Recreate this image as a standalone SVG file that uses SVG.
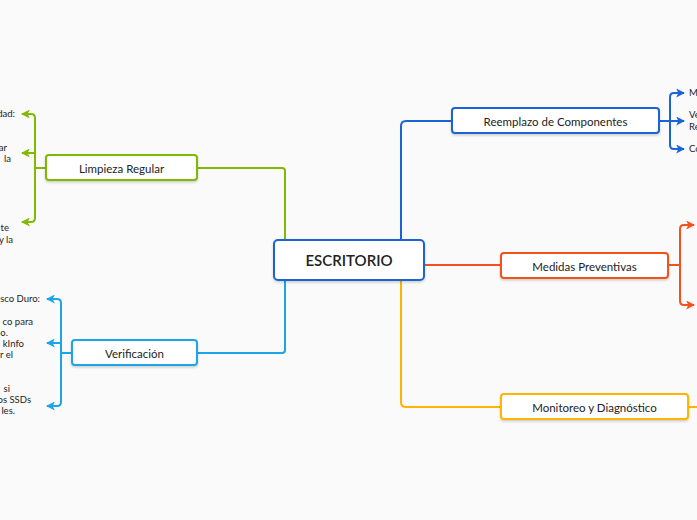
<svg xmlns="http://www.w3.org/2000/svg" width="697" height="520" viewBox="0 0 697 520">
<defs>
<style>
.bg{fill:#fafafa}
.node{fill:#ffffff;stroke-width:2;filter:url(#sh)}
.lbl{font-family:Lato,"Liberation Sans",sans-serif;font-size:11.5px;fill:#222;text-anchor:middle;dominant-baseline:central}
.main{font-size:15px;font-weight:600}
.sm{font-family:Lato,"Liberation Sans",sans-serif;font-size:9.5px;fill:#222}
.smr{font-family:Lato,"Liberation Sans",sans-serif;font-size:9.5px;fill:#222;text-anchor:end}
.c{fill:none;stroke-width:2;stroke-linejoin:round}
.g{stroke:#7fba00}.lb{stroke:#1ba5e9}.b{stroke:#1a64d6}.o{stroke:#f4511e}.a{stroke:#ffb400}
</style>
<filter id="sh" x="-10%" y="-20%" width="120%" height="160%">
<feDropShadow dx="0" dy="1.5" stdDeviation="1.2" flood-color="#000" flood-opacity="0.18"/>
</filter>
<marker id="mg" viewBox="0 0 8 8" refX="7" refY="4" markerWidth="4.5" markerHeight="4.5" orient="auto" markerUnits="strokeWidth"><path d="M0,0 L8,4 L0,8 L2,4 z" fill="#7fba00"/></marker>
<marker id="mlb" viewBox="0 0 8 8" refX="7" refY="4" markerWidth="4.5" markerHeight="4.5" orient="auto" markerUnits="strokeWidth"><path d="M0,0 L8,4 L0,8 L2,4 z" fill="#1ba5e9"/></marker>
<marker id="mb" viewBox="0 0 8 8" refX="7" refY="4" markerWidth="4.5" markerHeight="4.5" orient="auto" markerUnits="strokeWidth"><path d="M0,0 L8,4 L0,8 L2,4 z" fill="#1a64d6"/></marker>
<marker id="mo" viewBox="0 0 8 8" refX="7" refY="4" markerWidth="4.5" markerHeight="4.5" orient="auto" markerUnits="strokeWidth"><path d="M0,0 L8,4 L0,8 L2,4 z" fill="#f4511e"/></marker>
</defs>
<rect class="bg" x="0" y="0" width="697" height="520"/>

<g id="connectors">
<path class="c g" d="M197,168 H282 Q285,168 285,171 V240"/>
<path class="c lb" d="M197,353 H282 Q285,353 285,350 V280"/>
<path class="c b" d="M401,240 V126 Q401,121 406,121 H452"/>
<path class="c o" d="M424,265 H501"/>
<path class="c a" d="M401,280 V402 Q401,407 406,407 H501"/>
<path class="c g" d="M46,168 H35"/>
<path class="c g" d="M35,168 V118 Q35,114 31,114 H22" marker-end="url(#mg)"/>
<path class="c g" d="M35,153 H22" marker-end="url(#mg)"/>
<path class="c g" d="M35,168 V218 Q35,222 31,222 H22" marker-end="url(#mg)"/>
<path class="c lb" d="M72,353 H61"/>
<path class="c lb" d="M61,353 V303 Q61,299 57,299 H47" marker-end="url(#mlb)"/>
<path class="c lb" d="M61,343 H47" marker-end="url(#mlb)"/>
<path class="c lb" d="M61,353 V402 Q61,406 57,406 H47" marker-end="url(#mlb)"/>
<path class="c b" d="M659,121 H670"/>
<path class="c b" d="M670,121 V97 Q670,93 674,93 H684" marker-end="url(#mb)"/>
<path class="c b" d="M670,121 H684" marker-end="url(#mb)"/>
<path class="c b" d="M670,121 V145 Q670,149 674,149 H684" marker-end="url(#mb)"/>
<path class="c o" d="M668,265 H680"/>
<path class="c o" d="M680,265 V229 Q680,225 684,225 H694" marker-end="url(#mo)"/>
<path class="c o" d="M680,265 V301 Q680,305 684,305 H694" marker-end="url(#mo)"/>
<path class="c a" d="M688,407 H697"/>
</g>

<g id="n-escritorio">
<rect class="node b" x="274" y="240" width="150" height="40" rx="4"/>
<text class="lbl main" x="349" y="260">ESCRITORIO</text>
</g>
<g id="n-limpieza">
<rect class="node g" x="46" y="155" width="151" height="25" rx="3"/>
<text class="lbl" x="121.5" y="168">Limpieza Regular</text>
</g>
<g id="n-verificacion">
<rect class="node lb" x="72" y="340" width="125" height="25" rx="3"/>
<text class="lbl" x="134.5" y="353">Verificación</text>
</g>
<g id="n-reemplazo">
<rect class="node b" x="452" y="108" width="207" height="25" rx="3"/>
<text class="lbl" x="555.5" y="121">Reemplazo de Componentes</text>
</g>
<g id="n-medidas">
<rect class="node o" x="501" y="253" width="167" height="25" rx="3"/>
<text class="lbl" x="584.5" y="266">Medidas Preventivas</text>
</g>
<g id="n-monitoreo">
<rect class="node a" x="501" y="394" width="187" height="25" rx="3"/>
<text class="lbl" x="594.5" y="407">Monitoreo y Diagnóstico</text>
</g>

<g id="n-limpieza-children">
<text class="smr" x="15" y="117">dad:</text>
<text class="smr" x="7" y="151">ar</text>
<text class="smr" x="11" y="162">la</text>
<text class="smr" x="9" y="231">te</text>
<text class="smr" x="13" y="243">y la</text>
</g>
<g id="n-verificacion-children">
<text class="smr" x="40" y="302">sco Duro:</text>
<text class="smr" x="33" y="325">co para</text>
<text class="smr" x="8" y="336">o.</text>
<text class="smr" x="24" y="347">kInfo</text>
<text class="smr" x="13" y="358">r el</text>
<text class="smr" x="10" y="392">si</text>
<text class="smr" x="31" y="403">os SSDs</text>
<text class="smr" x="15" y="414">les.</text>
</g>
<g id="n-reemplazo-children">
<text class="sm" x="689" y="96">M</text>
<text class="sm" x="689" y="118">Ve</text>
<text class="sm" x="689" y="130">Re</text>
<text class="sm" x="689" y="152">Co</text>
</g>
</svg>
